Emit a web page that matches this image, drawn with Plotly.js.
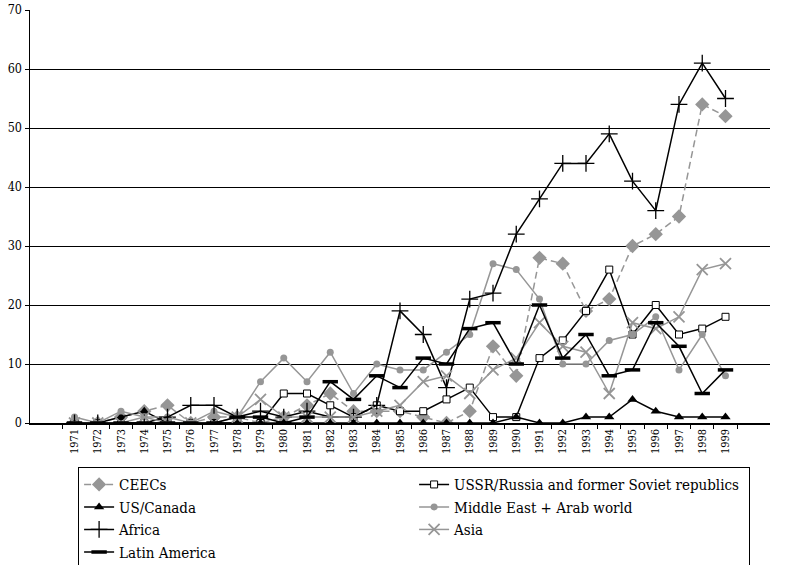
<!DOCTYPE html>
<html>
<head>
<meta charset="utf-8">
<script src="https://cdn.plot.ly/plotly-3.0.1.min.js"></script>
<style>html,body{margin:0;padding:0;background:#fff;}#chart{width:797px;height:565px;}</style>
</head>
<body>
<div id="chart"></div>
<script>
var years = ['1971','1972','1973','1974','1975','1976','1977','1978','1979','1980','1981','1982','1983','1984','1985','1986','1987','1988','1989','1990','1991','1992','1993','1994','1995','1996','1997','1998','1999'];
var ceecs      = [0,0,1,2,3,0,1,1,0,1,3,5,2,2,2,1,0,2,13,8,28,27,19,21,30,32,35,54,52];
var ussr       = [0,0,0,0,0,0,0,0,0,5,5,3,1,3,2,2,4,6,1,1,11,14,19,26,15,20,15,16,18];
var usCanada   = [0,0,1,2,0,0,0,0,0,0,0,0,0,0,0,0,0,0,0,1,0,0,1,1,4,2,1,1,1];
var middleEast = [1,0,2,1,1,0,2,1,7,11,7,12,5,10,9,9,12,15,27,26,21,10,10,14,15,18,9,15,8];
var africa     = [0,0,0,0,1,3,3,1,2,1,2,1,1,3,19,15,6,21,22,32,38,44,44,49,41,36,54,61,55];
var asia       = [0,0,0,1,0,0,0,1,4,1,1,1,1,2,3,7,8,5,9,11,17,13,12,5,17,16,18,26,27];
var latinAm    = [0,0,0,0,0,0,0,1,1,0,1,7,4,8,6,11,10,16,17,10,20,11,15,8,9,17,13,5,9];
var yTicks = [0,10,20,30,40,50,60,70];

var gray = '#969696';
var traces = [
  {name:'CEECs', y:ceecs, line:{color:gray,width:1.5,dash:'7px,4px'},
   marker:{symbol:'diamond',size:11,color:gray}},
  {name:'USSR/Russia and former Soviet republics', y:ussr, line:{color:'#000',width:1.5},
   marker:{symbol:'square',size:7,color:'#fff',line:{color:'#000',width:1}}},
  {name:'US/Canada', y:usCanada, line:{color:'#000',width:1.5},
   marker:{symbol:'triangle-up',size:9,color:'#000'}},
  {name:'Middle East + Arab world', y:middleEast, line:{color:gray,width:1.5},
   marker:{symbol:'circle',size:7,color:gray}},
  {name:'Africa', y:africa, line:{color:'#000',width:1.5},
   marker:{symbol:'cross-thin-open',size:12,color:'#000',line:{color:'#000',width:1.3}}},
  {name:'Asia', y:asia, line:{color:gray,width:1.5},
   marker:{symbol:'x-thin-open',size:11,color:gray,line:{color:gray,width:1.8}}},
  {name:'Latin America', y:latinAm, line:{color:'#000',width:1.5},
   marker:{symbol:'line-ew-open',size:11,color:'#000',line:{color:'#000',width:3.5}}}
];
traces.forEach(function(t){ t.x = years; t.type='scatter'; t.mode='lines+markers'; });

var layout = {
  width:797, height:565,
  margin:{l:30,r:27,t:10,b:142,autoexpand:false},
  paper_bgcolor:'#fff', plot_bgcolor:'#fff',
  font:{family:'DejaVu Serif Condensed', color:'#000', size:12},
  showlegend:true,
  xaxis:{type:'category', tickangle:-90, tickfont:{size:11}, showgrid:false,
         showline:true, linecolor:'#000', linewidth:1.5, ticks:'outside', ticklen:4,
         tickcolor:'#000', tickson:'boundaries', zeroline:false},
  yaxis:{range:[0,70], tickvals:yTicks, showgrid:true, gridcolor:'#000', gridwidth:1,
         showline:true, linecolor:'#000', linewidth:1.5, ticks:'outside', ticklen:4,
         tickcolor:'#000', tickfont:{size:12.5}, zeroline:false},
  legend:{orientation:'h', x:0.065, xanchor:'left', y:-0.107, yanchor:'top',
          bordercolor:'#000', borderwidth:1, bgcolor:'#fff',
          entrywidth:290, entrywidthmode:'pixels', traceorder:'normal',
          font:{size:15}, tracegroupgap:0}
};
Plotly.newPlot('chart', traces, layout, {displayModeBar:false, staticPlot:true});
</script>
</body>
</html>
